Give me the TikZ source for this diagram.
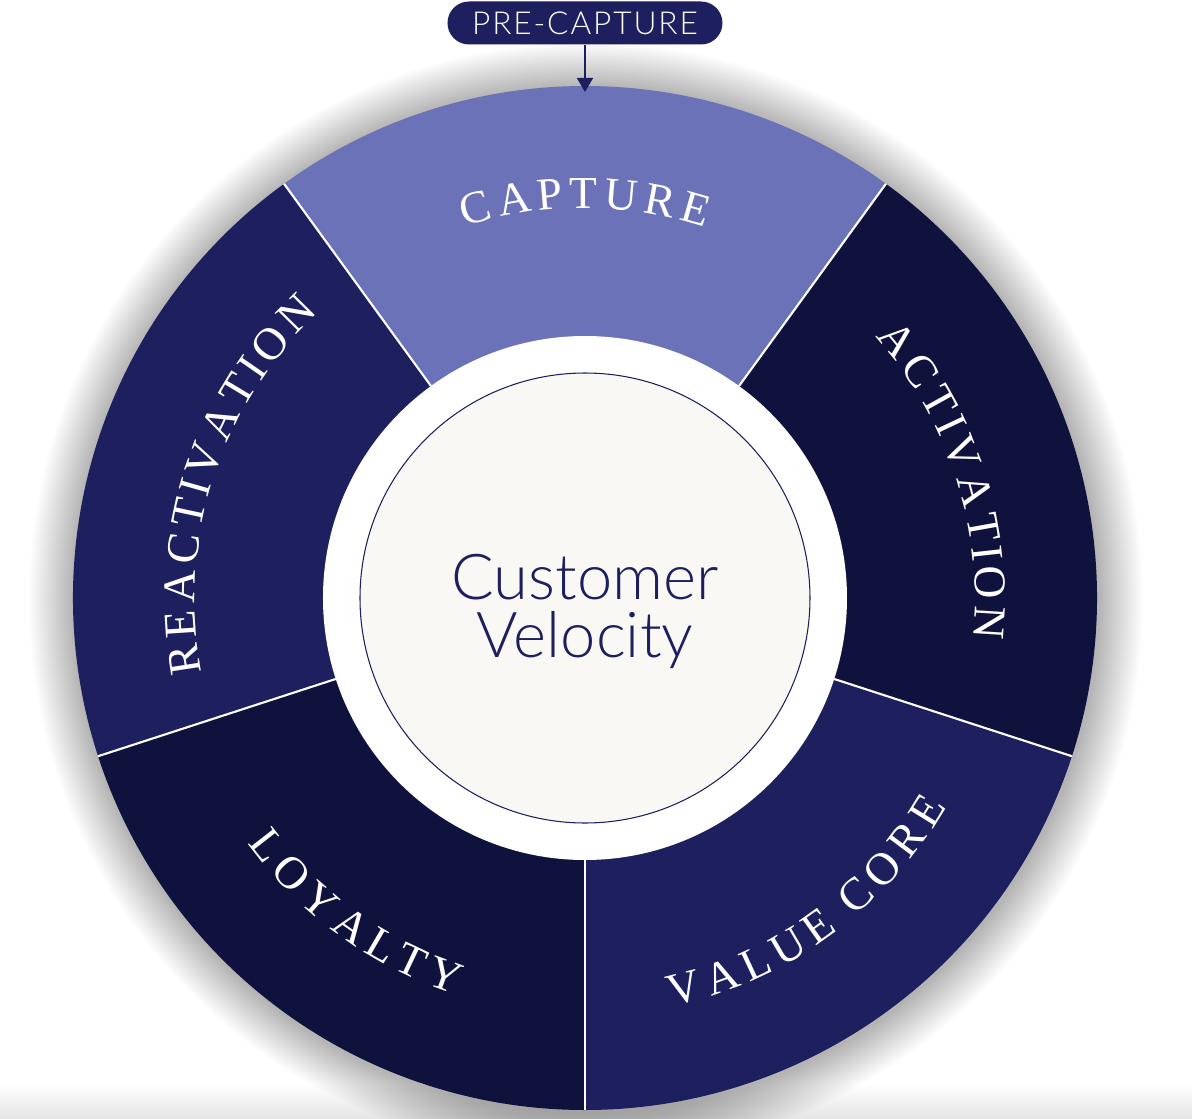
\documentclass[tikz,border=0pt]{standalone}
\usepackage{fontspec}
\setmainfont{Liberation Serif}
\newfontfamily\velofont{Lato Light}
\usetikzlibrary{arrows.meta,decorations.text}

\definecolor{navydark}{HTML}{10123E}
\definecolor{navymid}{HTML}{1D1F5E}
\definecolor{capblue}{HTML}{6B72B8}
\definecolor{cream}{HTML}{F9F8F4}
\newcommand{\segfont}{\fontsize{26}{26}\selectfont}

\begin{document}
\begin{tikzpicture}[
    divider/.style={draw=white, line width=1.2pt},
    pill/.style={fill=navymid, rounded corners=0.43cm, minimum width=5.5cm, minimum height=0.86cm, inner sep=0pt,
        text=white, font=\velofont\fontsize{18}{20}\selectfont\addfontfeature{LetterSpace=6}},
    hub/.style={circle, fill=cream, draw=navymid, line width=0.6pt, minimum size=9cm, inner sep=0pt},
    hubtext/.style={align=center, text=navymid, font=\velofont\fontsize{36}{33}\selectfont},
    arr/.style={-{Triangle[width=9pt,length=8pt]}, draw=navymid, line width=1.4pt},
    arclabel/.style={decorate, decoration={text effects along path, text={#1}, text align=center,
        text effects/.cd, text along path, fit text to path, characters={text=white, font=\segfont}}}
]
\useasboundingbox (-11.7,-10.4) rectangle (12.14,11.96);
\fill[white] (-11.7,-10.4) rectangle (12.14,11.96);
\shade[top color=white, bottom color=black!10] (-11.7,-9.7) rectangle (12.14,-10.4);

% soft glow round the wheel
\foreach \k in {1,...,25}
  \fill[black, opacity=0.013] (0.02,-0.04) circle[radius={10.24+\k*0.036}];

% the five sectors
\foreach \a/\col in {54/capblue, -18/navydark, -90/navymid, 198/navydark, 126/navymid}
  \fill[\col] (0,0) -- (\a:10.24) arc[start angle=\a, end angle=\a+72, radius=10.24] -- cycle;
\foreach \a in {54,126,198,270,342}
  \draw[divider] (\a:5.24) -- (\a:10.24);

\fill[white] (0,0) circle[radius=5.24];
\node[hub] (hub) at (0,0) {};
\node[hubtext] (velocity) at ([yshift=-0.27cm]hub.center) {Customer\\Velocity};

% labels on the ring
\path[arclabel=CAPTURE] (108:7.8) arc[start angle=108, end angle=72, radius=7.8];
\path[arclabel=ACTIVATION] (42:7.8) arc[start angle=42, end angle=-6, radius=7.8];
\path[arclabel=REACTIVATION] (191:7.8) arc[start angle=191, end angle=133, radius=7.8];
\path[arclabel={VALUE CORE}] (-78:8.35) arc[start angle=-78, end angle=-30, radius=8.35];
\path[arclabel=LOYALTY] (216:8.35) arc[start angle=216, end angle=252, radius=8.35];

\node[pill] (pre) at (0,11.5) {PRE-CAPTURE};
\coordinate (rimtop) at (0,10.12);
\draw[arr] (pre) -- (rimtop);
\end{tikzpicture}
\end{document}
